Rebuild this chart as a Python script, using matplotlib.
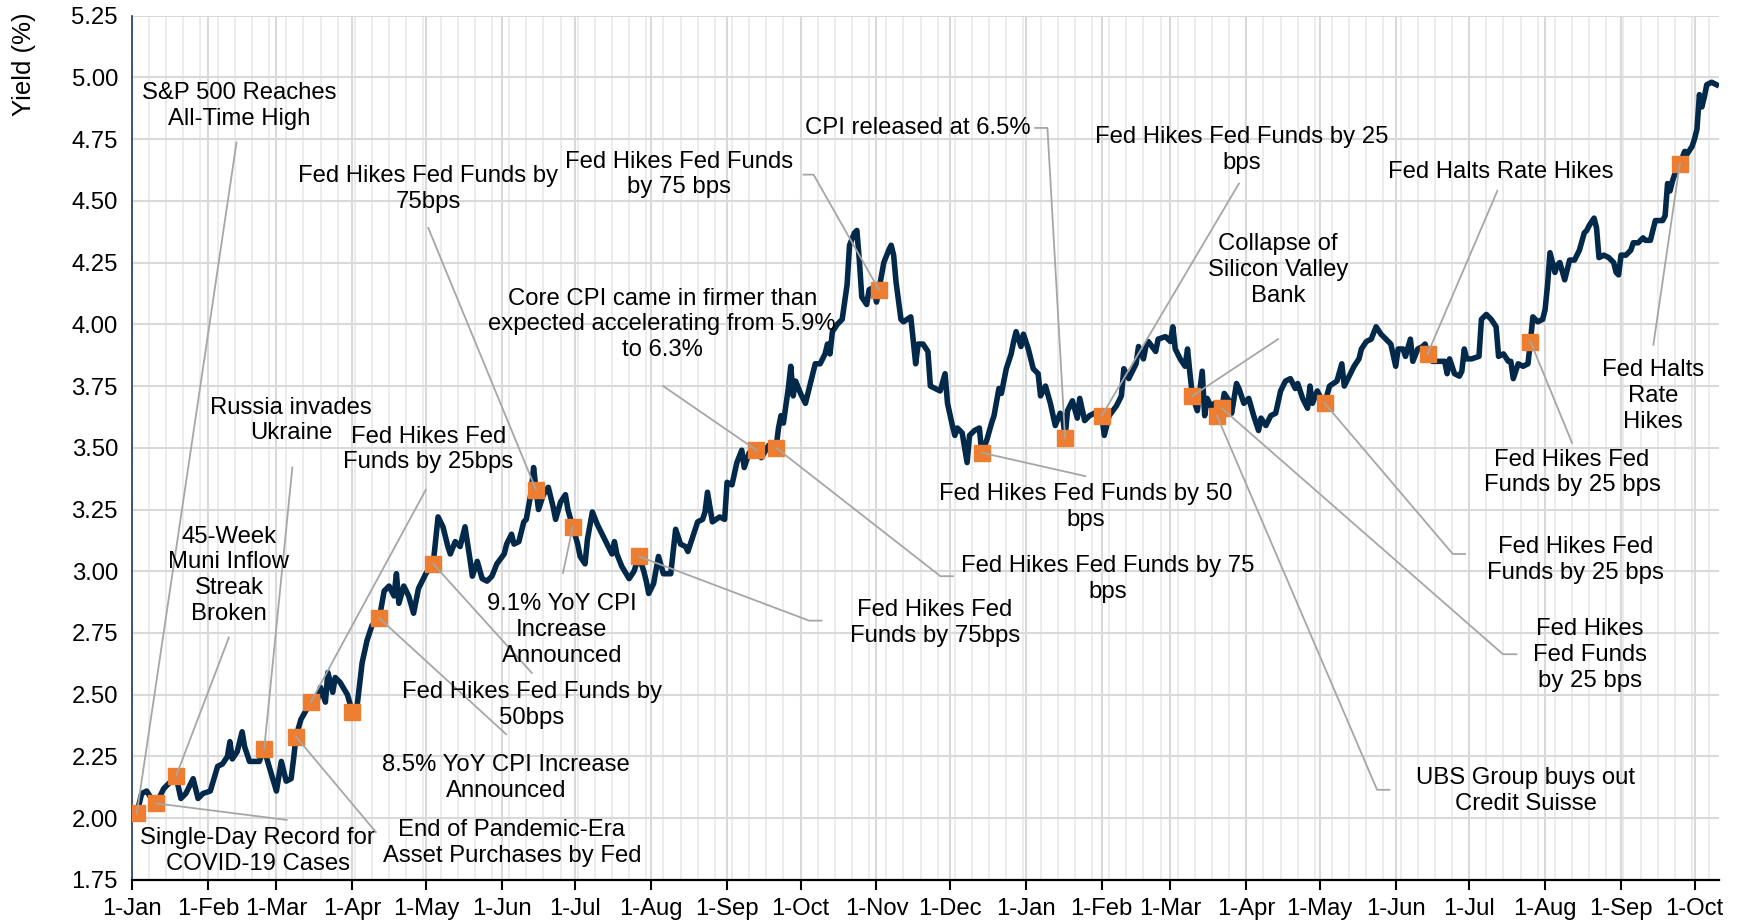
import matplotlib
matplotlib.use('Agg')
import matplotlib.pyplot as plt
import matplotlib.dates as mdates
from matplotlib.ticker import FixedLocator, FuncFormatter
import pandas as pd

plt.rcParams['font.family'] = ['Liberation Sans', 'DejaVu Sans']

START = pd.Timestamp('2022-01-01')
END = pd.Timestamp('2023-10-11')

# yield series: days since 1-Jan-2022 and yield (%)
day = [2, 4, 6, 8, 10, 13, 18, 20, 22, 25, 27, 29, 32, 35, 37, 39, 40, 41, 43, 45,
       46, 48, 52, 54, 56, 59, 61, 63, 65, 66, 67, 69, 73, 75, 77, 79, 80, 82, 83, 85,
       88, 90, 92, 94, 96, 98, 101, 103, 105, 107, 108, 109, 111, 113, 115, 117, 120, 122, 123, 125,
       127, 129, 130, 132, 134, 136, 138, 139, 141, 143, 145, 147, 149, 152, 153, 155, 156, 158, 160, 161,
       163, 164, 165, 166, 168, 170, 172, 173, 175, 177, 178, 180, 182, 183, 185, 186, 188, 190, 191, 193,
       196, 197, 198, 200, 203, 205, 207, 209, 210, 211, 213, 215, 217, 220, 222, 224, 226, 227, 229, 231,
       233, 234, 235, 237, 240, 242, 243, 245, 247, 249, 250, 252, 255, 257, 260, 263, 264, 265, 266, 267,
       268, 269, 270, 271, 273, 275, 277, 279, 281, 283, 284, 285, 286, 288, 290, 292, 293, 295, 296, 297,
       298, 300, 301, 303, 304, 305, 307, 309, 310, 311, 312, 314, 315, 318, 320, 321, 323, 325, 326, 328,
       330, 332, 333, 335, 336, 337, 339, 341, 342, 344, 346, 347, 349, 351, 352, 354, 355, 357, 359, 360,
       361, 363, 364, 366, 368, 370, 371, 373, 375, 377, 379, 380, 381, 382, 384, 386, 387, 389, 391, 393,
       396, 397, 399, 402, 404, 405, 407, 408, 410, 411, 413, 414, 415, 418, 419, 422, 424, 425, 426, 428,
       430, 431, 432, 433, 435, 437, 438, 439, 441, 442, 443, 445, 446, 448, 449, 451, 452, 454, 456, 458,
       460, 461, 463, 465, 467, 469, 471, 473, 475, 476, 478, 480, 481, 482, 484, 486, 487, 489, 492, 494,
       495, 497, 499, 501, 502, 504, 506, 508, 510, 512, 514, 516, 517, 519, 520, 522, 523, 525, 527, 528,
       529, 531, 534, 536, 537, 538, 540, 542, 543, 544, 545, 547, 550, 551, 553, 555, 557, 558, 560, 562,
       563, 564, 566, 568, 570, 571, 572, 574, 576, 577, 578, 579, 581, 582, 583, 585, 587, 589, 591, 593,
       594, 595, 597, 598, 599, 601, 603, 605, 606, 607, 608, 610, 612, 613, 615, 617, 618, 620, 622, 625,
       626, 627, 628, 629, 631, 632, 634, 635, 637, 638, 639, 640, 641, 642, 643, 645, 647]
yld = [2.02, 2.10, 2.11, 2.08, 2.06, 2.12, 2.17, 2.08, 2.10, 2.16, 2.08, 2.10, 2.11, 2.21, 2.22, 2.25, 2.31, 2.24, 2.27, 2.35,
       2.29, 2.23, 2.23, 2.28, 2.21, 2.11, 2.23, 2.15, 2.16, 2.24, 2.33, 2.40, 2.47, 2.45, 2.53, 2.47, 2.59, 2.51, 2.57, 2.55,
       2.50, 2.43, 2.46, 2.63, 2.72, 2.78, 2.81, 2.92, 2.94, 2.90, 2.99, 2.87, 2.94, 2.90, 2.83, 2.93, 2.99, 3.02, 3.03, 3.22,
       3.18, 3.10, 3.07, 3.12, 3.10, 3.18, 3.05, 2.98, 3.04, 2.97, 2.96, 2.98, 3.03, 3.07, 3.11, 3.15, 3.11, 3.12, 3.20, 3.21,
       3.32, 3.42, 3.33, 3.25, 3.31, 3.34, 3.26, 3.21, 3.28, 3.31, 3.25, 3.18, 3.11, 3.06, 3.03, 3.13, 3.24, 3.19, 3.17, 3.13,
       3.07, 3.12, 3.07, 3.02, 2.97, 3.00, 3.06, 3.00, 2.96, 2.91, 2.95, 3.06, 2.99, 2.99, 3.17, 3.11, 3.10, 3.08, 3.14, 3.20,
       3.21, 3.24, 3.32, 3.20, 3.22, 3.21, 3.36, 3.35, 3.44, 3.49, 3.42, 3.48, 3.49, 3.46, 3.51, 3.50, 3.58, 3.63, 3.60, 3.67,
       3.74, 3.83, 3.71, 3.77, 3.72, 3.68, 3.76, 3.84, 3.84, 3.88, 3.92, 3.88, 3.97, 4.00, 4.02, 4.16, 4.32, 4.37, 4.38, 4.26,
       4.11, 4.08, 4.14, 4.15, 4.09, 4.14, 4.25, 4.30, 4.32, 4.28, 4.17, 4.02, 4.01, 4.03, 3.84, 3.92, 3.92, 3.89, 3.75, 3.74,
       3.73, 3.80, 3.68, 3.59, 3.55, 3.58, 3.56, 3.44, 3.55, 3.57, 3.58, 3.48, 3.53, 3.60, 3.63, 3.74, 3.72, 3.82, 3.88, 3.93,
       3.97, 3.91, 3.96, 3.90, 3.82, 3.80, 3.71, 3.75, 3.68, 3.59, 3.64, 3.63, 3.54, 3.65, 3.69, 3.62, 3.70, 3.61, 3.63, 3.64,
       3.63, 3.55, 3.63, 3.67, 3.71, 3.82, 3.78, 3.80, 3.84, 3.91, 3.86, 3.91, 3.93, 3.89, 3.94, 3.95, 3.93, 3.99, 3.90, 3.86,
       3.83, 3.90, 3.80, 3.71, 3.65, 3.81, 3.63, 3.70, 3.66, 3.68, 3.63, 3.66, 3.72, 3.69, 3.64, 3.76, 3.74, 3.68, 3.70, 3.63,
       3.57, 3.62, 3.59, 3.63, 3.64, 3.73, 3.77, 3.78, 3.74, 3.76, 3.70, 3.66, 3.75, 3.68, 3.73, 3.69, 3.68, 3.75, 3.77, 3.84,
       3.75, 3.79, 3.83, 3.86, 3.90, 3.93, 3.94, 3.99, 3.96, 3.94, 3.92, 3.83, 3.90, 3.90, 3.87, 3.94, 3.85, 3.90, 3.91, 3.92,
       3.88, 3.85, 3.85, 3.85, 3.80, 3.86, 3.80, 3.79, 3.81, 3.90, 3.86, 3.86, 3.87, 4.02, 4.04, 4.02, 3.99, 3.87, 3.88, 3.85,
       3.85, 3.78, 3.84, 3.83, 3.84, 3.93, 4.03, 4.01, 4.02, 4.06, 4.16, 4.29, 4.21, 4.24, 4.25, 4.18, 4.26, 4.26, 4.30, 4.37,
       4.38, 4.40, 4.43, 4.39, 4.27, 4.28, 4.27, 4.25, 4.21, 4.20, 4.28, 4.28, 4.30, 4.33, 4.33, 4.35, 4.34, 4.34, 4.42, 4.42,
       4.44, 4.57, 4.54, 4.58, 4.64, 4.65, 4.70, 4.69, 4.72, 4.75, 4.79, 4.93, 4.88, 4.92, 4.97, 4.98, 4.97]

# events (orange squares), days since 1-Jan-2022
event_day = [2, 10, 18, 54, 67, 73, 90, 101, 123, 165, 180, 207, 255, 263,
             305, 347, 381, 396, 433, 443, 445, 487, 529, 571, 632]
event_text = [
    "S&P 500 Reaches\nAll-Time High",
    "Single-Day Record for\nCOVID-19 Cases",
    "45-Week\nMuni Inflow\nStreak\nBroken",
    "Russia invades\nUkraine",
    "End of Pandemic-Era\nAsset Purchases by Fed",
    "Fed Hikes Fed\nFunds by 25bps",
    "",
    "8.5% YoY CPI Increase\nAnnounced",
    "Fed Hikes Fed Funds by\n50bps",
    "Fed Hikes Fed Funds by\n75bps",
    "9.1% YoY CPI\nIncrease\nAnnounced",
    "Fed Hikes Fed\nFunds by 75bps",
    "Core CPI came in firmer than\nexpected accelerating from 5.9%\nto 6.3%",
    "Fed Hikes Fed Funds by 75\nbps",
    "Fed Hikes Fed Funds\nby 75 bps",
    "Fed Hikes Fed Funds by 50\nbps",
    "CPI released at 6.5%",
    "Fed Hikes Fed Funds by 25\nbps",
    "Collapse of\nSilicon Valley\nBank",
    "UBS Group buys out\nCredit Suisse",
    "Fed Hikes\nFed Funds\nby 25 bps",
    "Fed Hikes Fed\nFunds by 25 bps",
    "Fed Halts Rate Hikes",
    "Fed Hikes Fed\nFunds by 25 bps",
    "Fed Halts\nRate\nHikes",
]

# label layout (days, yield): text centre and leader line start points
text_pos = [(43.7, 4.885), (51.4, 1.867), (39.6, 2.984), (65.0, 3.61), (155.1, 1.899),
            (121, 3.493), None, (152.8, 2.164), (163.3, 2.457), (121, 4.547),
            (175.5, 2.763), (327.9, 2.79), (216.5, 4.0), (398.4, 2.97), (223.3, 4.606),
            (389.3, 3.26), (321, 4.795), (453, 4.705), (468, 4.22), (569, 2.11),
            (595.3, 2.66), (589.4, 3.047), (558.9, 4.615), (588, 3.40), (621.2, 3.71)]
leader_from = [[(42.7, 4.736)], [(63.2, 1.993)], [(39.6, 2.732)], [(65.5, 3.42)], [(99.6, 1.944)],
               [(120, 3.33)], [], [(152.8, 2.34)], [(163.3, 2.588)], [(121, 4.39)],
               [(176, 2.993)], [(281.6, 2.80), (276.5, 2.80)], [(216.9, 3.75)],
               [(335.2, 2.98), (330.1, 2.98)], [(274.2, 4.606), (278.3, 4.606)],
               [(389.3, 3.385)], [(368.8, 4.795), (373.8, 4.795)], [(452, 4.57)], [(468, 3.94)],
               [(513.4, 2.115), (508.4, 2.115)], [(565.3, 2.664), (559.8, 2.664)],
               [(544.3, 3.07), (539.3, 3.07)], [(557.5, 4.54)], [(588, 3.52)], [(621.2, 3.917)]]


def to_date(d):
    return START + pd.Timedelta(days=d)


dates = [to_date(d) for d in day]
lookup = dict(zip(day, yld))
ev_dates = [to_date(d) for d in event_day]
ev_vals = [lookup[d] for d in event_day]

fig = plt.figure(figsize=(17.45, 9.22), dpi=100)
ax = fig.add_axes([0.0756, 0.0456, 0.9095, 0.9375])

ax.plot(dates, yld, color='#03294A', lw=4.0, zorder=3, solid_joinstyle='round')
ax.plot(ev_dates, ev_vals, ls='none', marker='s', ms=12, color='#ED7D31', zorder=4)

for i, txt in enumerate(event_text):
    if not txt:
        continue
    tx, ty = text_pos[i]
    ax.text(to_date(tx), ty, txt, ha='center', va='center', fontsize=17.2,
            color='black', linespacing=1.22, zorder=6)
    pts = leader_from[i]
    xs = [to_date(p[0]) for p in pts] + [ev_dates[i]]
    ys = [p[1] for p in pts] + [ev_vals[i]]
    ax.plot(xs, ys, color='#A6A6A6', lw=1.3, zorder=5)

# axes
ax.set_xlim(START, END)
ax.set_ylim(1.75, 5.25)
ax.set_yticks([1.75 + 0.25 * k for k in range(15)])
ax.yaxis.set_major_formatter(FuncFormatter(lambda v, p: f"{v:.2f}"))

months = pd.date_range(START, '2023-10-01', freq='MS')
ax.set_xticks(months)
ax.xaxis.set_major_formatter(FuncFormatter(
    lambda v, p: f"{mdates.num2date(v).day}-{mdates.num2date(v).strftime('%b')}"))
weeks = pd.date_range(START, END, freq='7D')
ax.xaxis.set_minor_locator(FixedLocator(mdates.date2num(weeks)))

ax.grid(axis='y', color='#D9D9D9', lw=1.5, zorder=0)
ax.grid(axis='x', which='major', color='#D9D9D9', lw=1.5, zorder=0)
ax.grid(axis='x', which='minor', color='#EBEBEB', lw=1.3, zorder=0)
ax.set_axisbelow(True)

for s in ['top', 'right']:
    ax.spines[s].set_visible(False)
ax.spines['left'].set_color('#1F3864')
ax.spines['left'].set_linewidth(1.2)
ax.spines['bottom'].set_color('black')
ax.spines['bottom'].set_linewidth(1.6)

ax.tick_params(axis='x', which='major', length=7, width=1.5, direction='out',
               labelsize=17.2, pad=6)
ax.tick_params(axis='x', which='minor', length=0)
ax.tick_params(axis='y', length=0, labelsize=17.2, pad=10)

fig.text(24 / 1745, 1 - 64 / 922, 'Yield (%)', rotation=90, ha='center', va='center',
         fontsize=18.5)

fig.savefig('out.png', dpi=100)
